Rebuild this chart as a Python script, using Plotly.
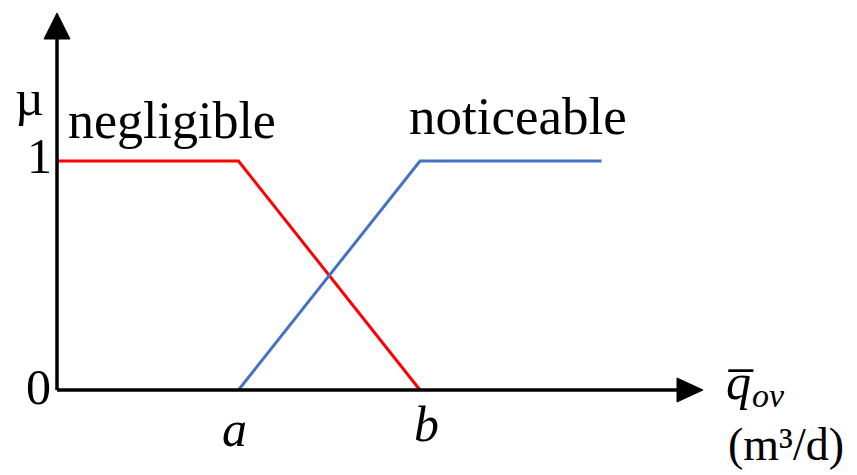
import plotly.graph_objects as go

# Membership functions for the overflow-rate variable
a, b = 1.0, 2.0
x_negligible = [0.0, a, b]
mu_negligible = [1.0, 1.0, 0.0]
x_noticeable = [a, b, 3.0]
mu_noticeable = [0.0, 1.0, 1.0]

W, H = 857, 475
# pixel geometry of the drawing area
X0_PX, UNIT_X = 57.0, 181.5
Y0_PX, UNIT_Y = 390.0, 229.0


def dx(px):
    return (px - X0_PX) / UNIT_X


def dy(py):
    return (Y0_PX - py) / UNIT_Y


fig = go.Figure()
fig.add_trace(go.Scatter(x=x_negligible, y=mu_negligible, mode="lines",
                         line=dict(color="#FF0000", width=3), hoverinfo="skip"))
fig.add_trace(go.Scatter(x=x_noticeable, y=mu_noticeable, mode="lines",
                         line=dict(color="#4472C4", width=3), hoverinfo="skip"))

shapes = [
    # horizontal axis and arrowhead
    dict(type="line", x0=0, y0=0, x1=dx(680), y1=0, line=dict(color="black", width=3.5)),
    dict(type="path", path=f"M {dx(677)},{dy(378)} L {dx(703)},{dy(390)} L {dx(677)},{dy(402)} Z",
         fillcolor="black", line=dict(color="black", width=1)),
    # vertical axis and arrowhead
    dict(type="line", x0=0, y0=0, x1=0, y1=dy(36), line=dict(color="black", width=3.5)),
    dict(type="path", path=f"M {dx(44)},{dy(39)} L {dx(57)},{dy(13)} L {dx(70)},{dy(39)} Z",
         fillcolor="black", line=dict(color="black", width=1)),
]

FONT = "Liberation Serif, Times New Roman, serif"


def label(text, px, py, size, xanchor="center", italic=False, family=FONT):
    t = f"<i>{text}</i>" if italic else text
    return dict(text=t, x=px / W, y=1 - py / H, xref="paper", yref="paper",
                xanchor=xanchor, yanchor="middle", showarrow=False,
                font=dict(family=family, size=size, color="black"))


annotations = [
    label("\u00b5", 29, 98, 50),
    label("1", 39, 156, 50),
    label("0", 38, 387, 50),
    label("negligible", 66, 120, 52, xanchor="left"),
    label("noticeable", 407, 116, 53, xanchor="left"),
    label("a", 234, 429, 50, italic=True),
    label("b", 426, 424, 50, italic=True),
    label("q\u0305", 740, 382, 50, italic=True),
    label("ov", 768, 395, 34, italic=True),
    label("(m\u00b3/d)", 786, 444, 46),
]

fig.update_layout(
    width=W, height=H,
    margin=dict(l=0, r=0, t=0, b=0),
    paper_bgcolor="white", plot_bgcolor="white",
    showlegend=False,
    xaxis=dict(range=[dx(0), dx(W)], visible=False, fixedrange=True),
    yaxis=dict(range=[dy(H), dy(0)], visible=False, fixedrange=True),
    shapes=shapes,
    annotations=annotations,
)

fig.write_html("out.html")
